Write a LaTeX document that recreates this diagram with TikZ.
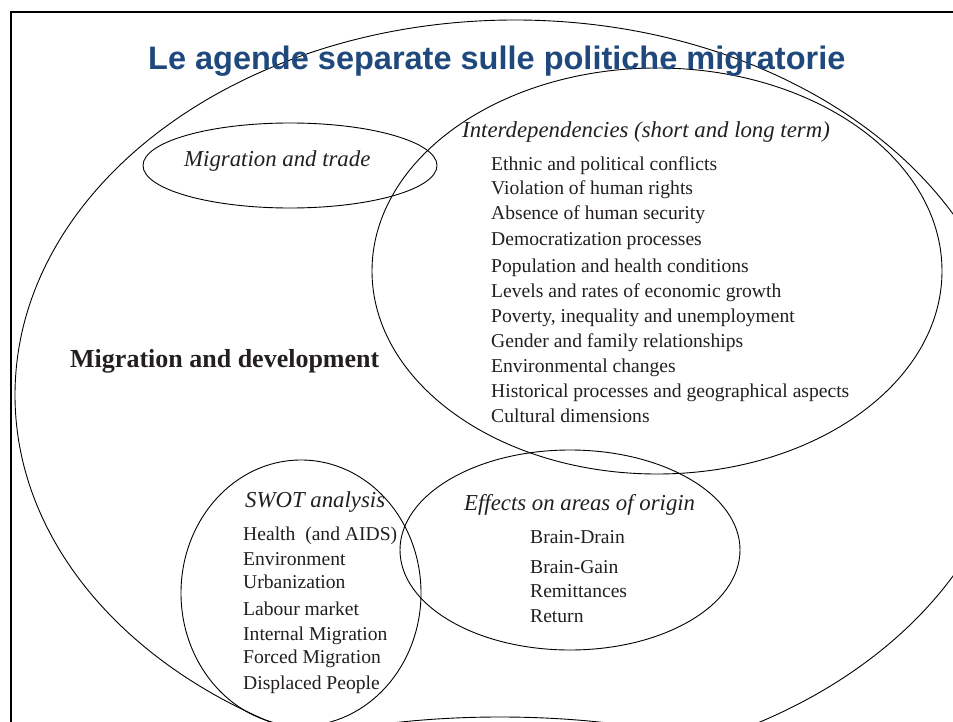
\documentclass[tikz,border=0pt]{standalone}
\usepackage{fontspec}
\setmainfont{Liberation Serif}
\newfontfamily\titlefont{Liberation Sans}
\definecolor{titleblue}{RGB}{31,73,125}
\definecolor{ink}{RGB}{35,31,32}
\tikzset{
  ring/.style={draw=black, line width=0.9pt},
  frameline/.style={draw=black, line width=2.2pt},
  itemtext/.style={anchor=base west, inner sep=0pt, text=ink, font=\fontsize{19.6}{22}\selectfont},
  headtext/.style={anchor=base west, inner sep=0pt, text=ink, font=\fontsize{22.8}{26}\selectfont\itshape},
  boldtext/.style={anchor=base west, inner sep=0pt, text=ink, font=\fontsize{26}{30}\selectfont\bfseries},
  titletext/.style={anchor=base west, inner sep=0pt, text=titleblue, font=\fontsize{32.5}{36}\selectfont\titlefont\bfseries}
}
\begin{document}
\begin{tikzpicture}[x=1pt,y=-1pt]
\useasboundingbox (0,0) rectangle (953,722);
\begin{scope}
\clip (0,0) rectangle (953,722);
\fill[white] (0,0) rectangle (953,722);
% ellipses
\draw[ring] (515,395) ellipse [x radius=500, y radius=375];
\draw[ring] (290,165.5) ellipse [x radius=147, y radius=42.5];
\draw[ring] (657,271) ellipse [x radius=285, y radius=203];
\draw[ring] (301,593) ellipse [x radius=120, y radius=133];
\draw[ring] (570,550) ellipse [x radius=170, y radius=100];
\draw[ring] (500,807) ellipse [x radius=300, y radius=90];
% frame
\draw[frameline] (11,730) -- (11,12) -- (960,12);
\end{scope}
% title
\node[titletext] (title) at (148,70) {Le agende separate sulle politiche migratorie};
% labels
\node[headtext] (trade) at (184,167) {Migration and trade};
\node[headtext] (interdep) at (462,138) {Interdependencies (short and long term)};
\node[boldtext] (devel) at (70,367) {Migration and development};
\node[headtext] (swot) at (245,507) {SWOT analysis};
\node[headtext] (effects) at (464,510) {Effects on areas of origin};
% interdependencies items
\foreach \t/\y [count=\i] in {Ethnic and political conflicts/171,
  Violation of human rights/195,
  Absence of human security/220,
  Democratization processes/245,
  Population and health conditions/272,
  Levels and rates of economic growth/297,
  {Poverty, inequality and unemployment}/322,
  Gender and family relationships/347,
  Environmental changes/372,
  Historical processes and geographical aspects/397,
  Cultural dimensions/422}
  \node[itemtext] (int\i) at (491,\y) {\t};
% swot items
\foreach \t/\y [count=\i] in {Health\ \ (and AIDS)/540,
  Environment/565,
  Urbanization/588,
  Labour market/615,
  Internal Migration/640,
  Forced Migration/663,
  Displaced People/689}
  \node[itemtext] (swot\i) at (243,\y) {\t};
% effects items
\foreach \t/\y [count=\i] in {Brain-Drain/543,
  Brain-Gain/573,
  Remittances/597,
  Return/622}
  \node[itemtext] (eff\i) at (530,\y) {\t};
\end{tikzpicture}
\end{document}
